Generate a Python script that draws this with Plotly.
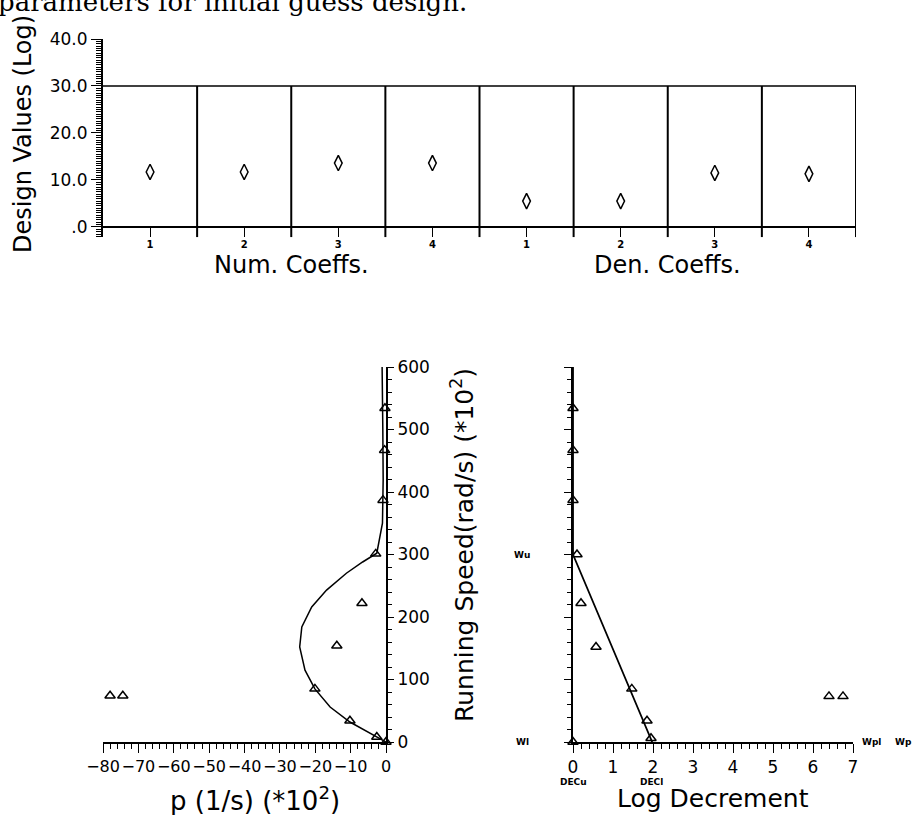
import plotly.graph_objects as go

W, H = 913, 815

# ---------------- data ----------------
# Top chart: design values (log) for numerator / denominator coefficients
coef_groups = ["Num. Coeffs.", "Den. Coeffs."]
num_labels = ["1", "2", "3", "4"]
den_labels = ["1", "2", "3", "4"]
num_values = [11.7, 11.7, 13.6, 13.6]
den_values = [5.5, 5.5, 11.5, 11.3]
design_tickvals = [0, 10, 20, 30, 40]
design_ticktext = [".0", "10.0", "20.0", "30.0", "40.0"]
design_upper = 30

# Bottom left: root locus p (1/s)(*10^2) vs running speed
p_curve = [0, -2.6, -10.2, -15.8, -20.1, -22.9, -24.4, -23.8, -21.0, -16.8,
           -11.2, -6.6, -2.6, -1.0, -0.8, -0.9, -1.1]
w_curve = [0, 8, 32, 56, 85, 115, 152, 184, 216, 243,
           270, 288, 302, 350, 420, 500, 600]
p_points = [-78.0, -74.4, -20.1, -13.9, -6.8, -2.9, -10.2, -2.6, 0.0, -0.85, -0.4, -0.3]
w_points = [74, 74, 85, 154, 222, 301, 34, 8, 0, 387, 467, 534]

# Bottom right: log decrement vs running speed
dec_points = [6.4, 6.75, 1.47, 0.575, 0.2, 0.1, 1.85, 1.95, 0.0, 0.0, 0.0, 0.0]
w_dec_points = [73, 73, 85, 152, 222, 300, 34, 6, 0, 387, 467, 534]
dec_line = [0, 0, 1.98]
w_dec_line = [600, 300, 0]
speed_mark_labels = ["Wu", "Wl"]
speed_mark_values = [300, 0]
dec_mark_labels = ["DECu", "DECl"]
dec_mark_values = [0.0, 1.95]
end_labels = ["Wpl", "Wp"]

# ---------------- helpers ----------------
def px_x(p):
    return p / W

def px_y(p):
    return 1 - p / H

FONT = "DejaVu Sans"
BLACK = "black"

fig = go.Figure()

# ---------- top chart ----------
num_x = list(range(1, len(num_labels) + 1))
den_x = list(range(len(num_labels) + 1, len(num_labels) + len(den_labels) + 1))
all_x = num_x + den_x
fig.add_trace(go.Scatter(x=num_x + den_x, y=num_values + den_values, mode="markers",
                         marker=dict(symbol="diamond-tall-open", size=11, color=BLACK,
                                     line=dict(width=1.5, color=BLACK)),
                         xaxis="x", yaxis="y", showlegend=False, cliponaxis=False))

lo_x, hi_x = 0.5, len(all_x) + 0.5
top_ymin = -2.2
shapes = []
# top line of the box
shapes.append(dict(type="line", xref="x", yref="y", x0=lo_x - 0.03, x1=hi_x, y0=design_upper,
                   y1=design_upper, line=dict(color=BLACK, width=1.3)))
# separators
for xv in all_x:
    b = xv + 0.5
    shapes.append(dict(type="line", xref="x", yref="y", x0=b, x1=b, y0=top_ymin,
                       y1=design_upper, line=dict(color=BLACK, width=2)))

# ---------- bottom left ----------
fig.add_trace(go.Scatter(x=p_curve, y=w_curve, mode="lines", line=dict(color=BLACK, width=1.5),
                         xaxis="x2", yaxis="y2", showlegend=False, cliponaxis=False))
fig.add_trace(go.Scatter(x=p_points, y=w_points, mode="markers",
                         marker=dict(symbol="triangle-up-open", size=9, color=BLACK,
                                     line=dict(width=1.5, color=BLACK)),
                         xaxis="x2", yaxis="y2", showlegend=False, cliponaxis=False))

# ---------- bottom right ----------
fig.add_trace(go.Scatter(x=dec_line, y=w_dec_line, mode="lines", line=dict(color=BLACK, width=1.8),
                         xaxis="x3", yaxis="y3", showlegend=False, cliponaxis=False))
fig.add_trace(go.Scatter(x=dec_points, y=w_dec_points, mode="markers",
                         marker=dict(symbol="triangle-up-open", size=9, color=BLACK,
                                     line=dict(width=1.5, color=BLACK)),
                         xaxis="x3", yaxis="y3", showlegend=False, cliponaxis=False))

tickfont = dict(family=FONT, size=17, color=BLACK)


def ann(**kw):
    base = dict(showarrow=False, xanchor="center", yanchor="middle")
    base.update(kw)
    return base


annotations = []
# top line of text from the page
annotations.append(ann(text="parameters for initial guess design.", xref="paper", yref="paper",
                       x=px_x(-4), y=px_y(2), xanchor="left",
                       font=dict(family="DejaVu Serif", size=26, color=BLACK)))
# top chart titles
annotations.append(ann(text="Design Values (Log)", xref="paper", yref="paper", x=px_x(23),
                       y=px_y(134), textangle=-90,
                       font=dict(family=FONT, size=24, color=BLACK)))
grp_centers = [sum(num_x) / len(num_x), sum(den_x) / len(den_x)]
for g, c in zip(coef_groups, grp_centers):
    annotations.append(ann(text=g, xref="x", yref="paper", x=c, y=px_y(265),
                           font=dict(family=FONT, size=24, color=BLACK)))
# bottom-left titles
annotations.append(ann(text="p (1/s) (*10<sup>2</sup>)", xref="paper", yref="paper", x=px_x(255),
                       y=px_y(799), font=dict(family=FONT, size=26, color=BLACK)))
annotations.append(ann(text="Running Speed(rad/s) (*10<sup>2</sup>)", xref="paper", yref="paper",
                       x=px_x(462), y=px_y(545), textangle=-90,
                       font=dict(family=FONT, size=25, color=BLACK)))
# bottom-right titles
annotations.append(ann(text="Log Decrement", xref="paper", yref="paper", x=px_x(713),
                       y=px_y(798), font=dict(family=FONT, size=25, color=BLACK)))
small = dict(family=FONT, size=9, color=BLACK, weight="bold")
for lab, v in zip(speed_mark_labels, speed_mark_values):
    annotations.append(ann(text=lab, xref="paper", yref="y3", x=px_x(522), y=v, font=small))
for lab, v in zip(dec_mark_labels, dec_mark_values):
    annotations.append(ann(text=lab, xref="x3", yref="paper", x=v, y=px_y(782), font=small))
for lab, xp in zip(end_labels, [871, 903]):
    annotations.append(ann(text=lab, xref="paper", yref="y3", x=px_x(xp), y=0, font=small))


def axis(**kw):
    base = dict(showgrid=False, zeroline=False, linecolor=BLACK, tickcolor=BLACK,
                tickfont=tickfont, fixedrange=True, automargin=False)
    base.update(kw)
    return base


fig.update_layout(
    width=W, height=H, autosize=False,
    margin=dict(l=0, r=0, t=0, b=0, pad=0),
    paper_bgcolor="white", plot_bgcolor="white",
    showlegend=False,
    shapes=shapes,
    annotations=annotations,
    # top
    xaxis=axis(tickfont=dict(family=FONT, size=10, color=BLACK, weight="bold"),
               domain=[px_x(103), px_x(856)], range=[lo_x, hi_x], anchor="y",
               showline=False, tickmode="array", tickvals=all_x, ticktext=num_labels + den_labels,
               ticks="inside", ticklen=9, tickwidth=1.3, tickangle=0),
    yaxis=axis(domain=[px_y(237.3), px_y(39)], range=[top_ymin, 40], anchor="x",
               showline=True, linewidth=2, tickmode="array", tickvals=design_tickvals,
               ticktext=design_ticktext, ticks="outside", ticklen=10, tickwidth=1.3,
               zeroline=True, zerolinecolor=BLACK, zerolinewidth=1.5,
               minor=dict(tickmode="linear", tick0=0, dtick=0.5, ticks="outside", ticklen=5,
                          tickcolor=BLACK, tickwidth=1)),
    # bottom left
    xaxis2=axis(domain=[px_x(103), px_x(386)], range=[-80, 0], anchor="y2",
                showline=True, linewidth=1.5, tickmode="linear", tick0=0, dtick=10,
                ticks="outside", ticklen=9, tickwidth=1.3, tickangle=0,
                tickfont=dict(family=FONT, size=16, color=BLACK),
                minor=dict(tickmode="linear", tick0=0, dtick=2, ticks="outside", ticklen=5,
                           tickcolor=BLACK, tickwidth=1)),
    yaxis2=axis(domain=[px_y(742), px_y(367)], range=[0, 600], anchor="x2",
                side="right", showline=True, linewidth=2, tickmode="linear", tick0=0, dtick=100,
                ticks="outside", ticklen=6, tickwidth=1.3,
                minor=dict(tickmode="linear", tick0=0, dtick=20, ticks="outside", ticklen=4,
                           tickcolor=BLACK, tickwidth=1)),
    # bottom right
    xaxis3=axis(domain=[px_x(573), px_x(853)], range=[0, 7], anchor="y3",
                showline=True, linewidth=1.5, tickmode="linear", tick0=0, dtick=1,
                ticks="outside", ticklen=9, tickwidth=1.3, tickangle=0,
                minor=dict(tickmode="linear", tick0=0, dtick=0.2, ticks="outside", ticklen=5,
                           tickcolor=BLACK, tickwidth=1)),
    yaxis3=axis(domain=[px_y(742), px_y(367)], range=[0, 600], anchor="x3",
                side="left", showline=True, linewidth=2, tickmode="linear", tick0=0, dtick=100,
                ticks="outside", ticklen=7, tickwidth=1.3, showticklabels=False,
                minor=dict(tickmode="linear", tick0=0, dtick=20, ticks="outside", ticklen=4,
                           tickcolor=BLACK, tickwidth=1)),
)

fig.write_html("out.html", config={"displayModeBar": False},
               post_script="document.body.style.margin='0';document.body.style.overflow='hidden';")
